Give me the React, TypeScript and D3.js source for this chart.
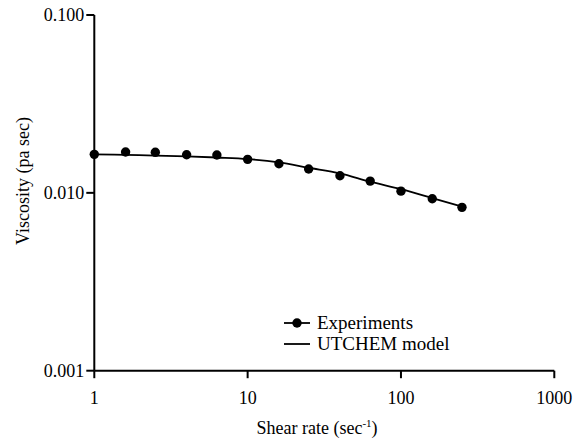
import React, { useEffect, useRef } from "react"
import * as d3 from "d3"

const shearRates = [1, 1.6, 2.5, 4, 6.3, 10, 16, 25, 40, 63, 100, 160, 250]
const viscosityExp = [0.01646, 0.01697, 0.0169, 0.01638, 0.01633, 0.01543, 0.01458, 0.01361, 0.01247, 0.01164, 0.01022, 0.00926, 0.00829]
const viscosityModel = [0.01646, 0.01635, 0.0162, 0.01605, 0.0158, 0.01549, 0.01483, 0.01384, 0.01288, 0.01155, 0.0105, 0.00935, 0.00836]
const xTicks = [1, 10, 100, 1000]
const yTicks = [0.001, 0.01, 0.1]
const yTickLabels = ["0.001", "0.010", "0.100"]
const legendLabels = ["Experiments", "UTCHEM model"]

function App() {
    const svgRef = useRef<SVGSVGElement>(null)

    useEffect(() => {
        const width = 583
        const height = 441
        const font = "Liberation Serif, DejaVu Serif, Times New Roman, serif"

        const svg = d3.select(svgRef.current)
        svg.selectAll("*").remove()
        svg.attr("width", width).attr("height", height)
            .attr("font-family", font)

        const x = d3.scaleLog().domain([1, 1000]).range([94.3, 554.3])
        const y = d3.scaleLog().domain([0.001, 0.1]).range([370.7, 15])

        // x axis
        const xAxis = svg.append("g").attr("transform", `translate(0,${y(0.001)})`)
        xAxis.append("line")
            .attr("x1", x(1)).attr("x2", x(1000))
            .attr("stroke", "#000").attr("stroke-width", 2)
        xTicks.forEach((t) => {
            xAxis.append("line")
                .attr("x1", x(t)).attr("x2", x(t))
                .attr("y1", 0).attr("y2", 7.5)
                .attr("stroke", "#000").attr("stroke-width", 2)
            xAxis.append("text")
                .attr("x", x(t)).attr("y", 33)
                .attr("text-anchor", "middle")
                .attr("font-size", 18)
                .text(String(t))
        })

        // y axis
        const yAxis = svg.append("g").attr("transform", `translate(${x(1)},0)`)
        yAxis.append("line")
            .attr("y1", y(0.001)).attr("y2", y(0.1))
            .attr("stroke", "#000").attr("stroke-width", 2)
        yTicks.forEach((t, i) => {
            yAxis.append("line")
                .attr("x1", -8).attr("x2", 0)
                .attr("y1", y(t)).attr("y2", y(t))
                .attr("stroke", "#000").attr("stroke-width", 2)
            yAxis.append("text")
                .attr("x", -10).attr("y", y(t) + 6)
                .attr("text-anchor", "end")
                .attr("font-size", 18)
                .text(yTickLabels[i])
        })

        // axis titles
        const xTitle = svg.append("text")
            .attr("x", 317).attr("y", 434)
            .attr("text-anchor", "middle")
            .attr("font-size", 18)
        xTitle.append("tspan").text("Shear rate (sec")
        xTitle.append("tspan").attr("dy", -7).attr("font-size", 11).text("-1")
        xTitle.append("tspan").attr("dy", 7).text(")")

        svg.append("text")
            .attr("transform", "rotate(-90)")
            .attr("x", -181).attr("y", 29)
            .attr("text-anchor", "middle")
            .attr("font-size", 18)
            .text("Viscosity (pa sec)")

        // model line
        const line = d3.line<number>()
            .x((d, i) => x(shearRates[i]))
            .y((d) => y(d))
            .curve(d3.curveMonotoneX)
        svg.append("path")
            .datum(viscosityModel)
            .attr("d", line)
            .attr("fill", "none")
            .attr("stroke", "#000")
            .attr("stroke-width", 1.8)

        // experimental points
        svg.append("g")
            .selectAll("circle")
            .data(viscosityExp)
            .join("circle")
            .attr("cx", (d, i) => x(shearRates[i]))
            .attr("cy", (d) => y(d))
            .attr("r", 4.7)
            .attr("fill", "#000")

        // legend
        const legend = svg.append("g")
        legend.append("line")
            .attr("x1", 284).attr("x2", 310).attr("y1", 323).attr("y2", 323)
            .attr("stroke", "#000").attr("stroke-width", 1.8)
        legend.append("circle").attr("cx", 297).attr("cy", 323).attr("r", 4.7).attr("fill", "#000")
        legend.append("line")
            .attr("x1", 284).attr("x2", 310).attr("y1", 344).attr("y2", 344)
            .attr("stroke", "#000").attr("stroke-width", 1.8)
        legendLabels.forEach((label, i) => {
            legend.append("text")
                .attr("x", 317).attr("y", 329 + i * 21)
                .attr("font-size", 19)
                .text(label)
        })
    }, [])

    return (
        <svg ref={svgRef} style={{ position: "absolute", left: 0, top: 0, background: "#fff" }} />
    )
}

export default App
